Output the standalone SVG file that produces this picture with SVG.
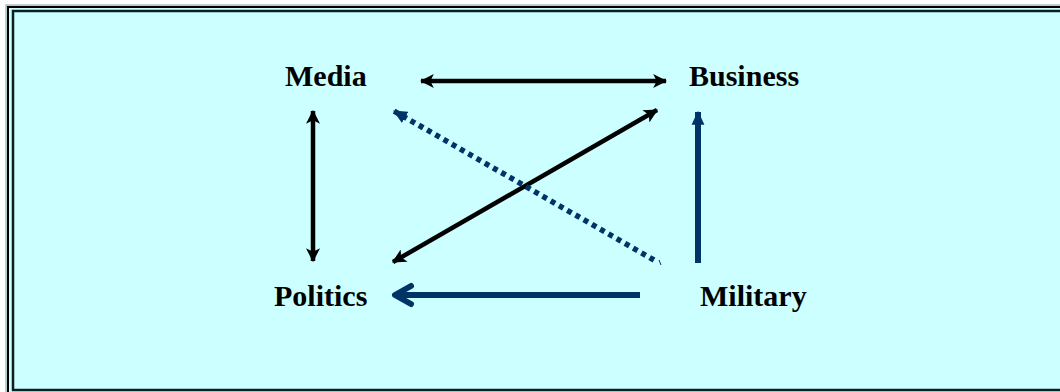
<svg xmlns="http://www.w3.org/2000/svg" width="1060" height="392" viewBox="0 0 1060 392">
  <style>
    .lbl { font-family: "Liberation Serif", "Times New Roman", serif; font-weight: bold; font-size: 30px; fill: #000; }
    .blk { stroke: #000; stroke-width: 4.5; fill: none; }
    .blu { stroke: #003366; stroke-width: 6; fill: none; }
  </style>
  <defs>
    <marker id="ahB" viewBox="0 0 12 12" refX="11" refY="6" markerWidth="14" markerHeight="14" markerUnits="userSpaceOnUse" orient="auto-start-reverse">
      <path d="M0,0 L12,6 L0,12 L3,6 Z" fill="#000"/>
    </marker>
    <marker id="ahU" viewBox="0 0 12 12" refX="11" refY="6" markerWidth="14" markerHeight="14" markerUnits="userSpaceOnUse" orient="auto">
      <path d="M0,0.5 L12,6 L0,11.5 Z" fill="#003366"/>
    </marker>
  </defs>
  <rect x="0" y="0" width="1060" height="392" fill="#ffffff"/>
  <rect x="6" y="5" width="1070" height="400" fill="#ccffff" stroke="#999999" stroke-width="1"/>
  <rect x="8" y="7" width="1070" height="400" fill="#ccffff" stroke="#000000" stroke-width="2"/>
  <rect x="13" y="11" width="1060" height="379" fill="#ccffff" stroke="#0d2020" stroke-width="2.5"/>

  <g id="connectors">
    <line class="blk" x1="421" y1="81" x2="666" y2="81" marker-start="url(#ahB)" marker-end="url(#ahB)"/>
    <line class="blk" x1="313" y1="111" x2="313" y2="261" marker-start="url(#ahB)" marker-end="url(#ahB)"/>
    <line class="blk" x1="393" y1="262" x2="657" y2="110" marker-start="url(#ahB)" marker-end="url(#ahB)"/>
    <line stroke="#003366" stroke-width="5.5" stroke-dasharray="5 4.5" fill="none" x1="654" y1="260" x2="394" y2="111" marker-end="url(#ahU)"/>
    <line stroke="#003366" stroke-width="1" x1="659" y1="260" x2="661" y2="265"/>
    <line class="blu" x1="698" y1="263" x2="698" y2="112" marker-end="url(#ahU)"/>
    <line class="blu" x1="640" y1="295" x2="396" y2="295"/>
    <polyline class="blu" stroke-linejoin="round" stroke-linecap="round" points="411,286 395,295 411,304"/>
  </g>

  <g id="media"><text class="lbl" x="285" y="86">Media</text></g>
  <g id="business"><text class="lbl" x="689" y="86">Business</text></g>
  <g id="politics"><text class="lbl" x="274" y="306">Politics</text></g>
  <g id="military"><text class="lbl" x="700" y="306">Military</text></g>
</svg>
